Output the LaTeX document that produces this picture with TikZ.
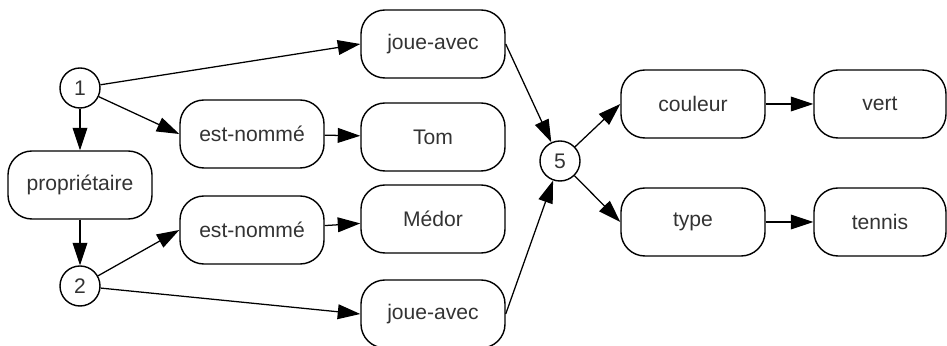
\documentclass[tikz,border=0pt]{standalone}
\usepackage{fontspec}
\setmainfont{Liberation Sans}
\usetikzlibrary{arrows.meta}

\begin{document}
\begin{tikzpicture}[x=0.025cm, y=-0.025cm]
                \useasboundingbox (0,0) rectangle (947,346);
                \begin{scope}[every node/.style={draw, line width=1pt, rounded corners=0.6cm, minimum width=3.6cm, minimum height=1.7cm, inner sep=1, text=black!80, font=\fontsize{15}{17}\selectfont}]
                        \node (P) at (80,185) {propriétaire};
                        \node (N1) at (252,134) {est-nommé};
                        \node (N2) at (252,230) {est-nommé};

                        \node (J1) at (433,44) {joue-avec};
                        \node (T) at (433,137) {Tom};
                        \node (M) at (433,219) {Médor};
                        \node (J2) at (433,314) {joue-avec};

                        \node (K) at (693,104) {couleur};
                        \node (Ty) at (693,222) {type};
                        \node[minimum width=3.3cm] (V) at (880,104) {vert};
                        \node[minimum width=3.3cm] (Te) at (880,222) {tennis};
                \end{scope}
                \begin{scope}[every node/.style={draw, circle, line width=1pt, minimum size=1cm, inner sep=1, text=black!80, font=\fontsize{15}{17}\selectfont}]
                        \node (C1) at (80,88) {1};
                        \node (C2) at (80,286) {2};
                        \node (C5) at (560,161) {5};
                \end{scope}
                \begin{scope}[every path/.style={line width=0.9pt, -{Triangle[length=16pt, width=10.5pt]}}]
                        \path (C1) edge (P);
                        \path (P) edge (C2);
                        \path (C1) edge (N1.west);
                        \path (C1) edge (J1.west);
                        \path (C2) edge (N2.west);
                        \path (C2) edge (J2.west);

                        \path (N1) edge (T);
                        \path (N2) edge (M);
                        \path (J1.east) edge (C5);
                        \path (J2.east) edge (C5);

                        \path (C5) edge (K.west);
                        \path (C5) edge (Ty.west);
                        \path (K) edge (V);
                        \path (Ty) edge (Te);
                \end{scope}
        \end{tikzpicture}
\end{document}
